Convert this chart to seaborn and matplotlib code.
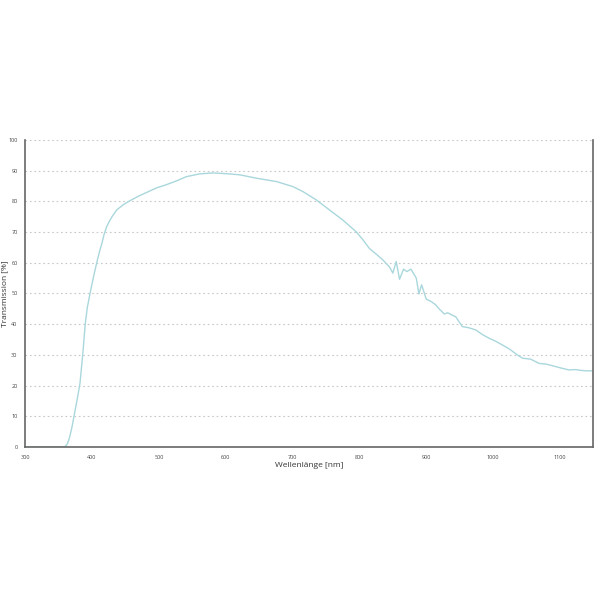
import numpy as np
import pandas as pd
import seaborn as sns
import matplotlib.pyplot as plt

# Transmission curve
wavelength = [300, 320, 340, 355, 360, 363, 366, 370, 373, 376, 379, 382, 386, 390, 393, 397,
              402, 407, 411, 415, 418, 422, 426, 430, 437, 447, 457, 470, 485, 497, 510, 525,
              541, 561, 580, 591, 605, 621, 646, 676, 700, 715, 735, 755, 775, 795, 805, 815,
              825, 835, 845, 850, 855, 860, 866, 871, 877, 885, 889, 893, 900, 907, 914, 920,
              927, 932, 938, 944, 954, 964, 974, 984, 994, 1004, 1014, 1025, 1036, 1044, 1056,
              1069, 1079, 1088, 1100, 1113, 1123, 1133, 1140, 1148]
transmission = [0.0, 0.0, 0.0, 0.0, 0.2, 1.0, 2.8, 6.5, 10.0, 13.5, 17.0, 20.8, 30.0, 40.4, 45.5, 50.0,
                55.2, 60.0, 63.5, 66.5, 69.2, 71.8, 73.5, 75.0, 77.2, 78.9, 80.2, 81.7, 83.2, 84.4, 85.3, 86.5,
                88.0, 88.9, 89.2, 89.1, 88.9, 88.6, 87.5, 86.4, 84.8, 83.2, 80.5, 77.2, 73.9, 70.1, 67.5, 64.6,
                62.8, 60.9, 58.6, 56.6, 60.4, 54.6, 57.9, 57.1, 57.9, 55.0, 49.8, 52.8, 48.1, 47.4, 46.3, 44.8,
                43.3, 43.7, 43.0, 42.4, 39.2, 38.8, 38.1, 36.6, 35.4, 34.4, 33.2, 31.8, 30.0, 28.9, 28.6,
                27.2, 27.0, 26.5, 25.8, 25.1, 25.2, 24.9, 24.8, 24.8]

x_ticks = list(range(300, 1101, 100))
y_ticks = list(range(0, 101, 10))

df = pd.DataFrame({'Wellenlänge': wavelength, 'Transmission': transmission})

sns.set_theme(style='white')
plt.rcParams['font.family'] = ['Open Sans', 'DejaVu Sans']

fig = plt.figure(figsize=(6, 6), dpi=100)
ax = fig.add_axes([0.042, 0.255, 0.947, 0.512])

sns.lineplot(data=df, x='Wellenlänge', y='Transmission', color='#a9d7dc', linewidth=1.0, ax=ax)

ax.set_xlim(300, 1150)
ax.set_ylim(0, 100)
ax.set_xticks(x_ticks)
ax.set_yticks(y_ticks)
ax.tick_params(axis='both', labelsize=4, length=5, width=0.8, direction='inout',
               color='#555555', labelcolor='#444444', pad=3)
ax.grid(axis='y', linestyle=(0, (1.5, 2.5)), color='#c8c8c8', linewidth=0.8)

for side in ['left', 'bottom', 'right']:
    ax.spines[side].set_visible(True)
    ax.spines[side].set_color('#666666')
    ax.spines[side].set_linewidth(1.2)
ax.spines['top'].set_visible(False)

ax.set_xlabel('Wellenlänge [nm]', fontsize=6, color='#333333', labelpad=2)
ax.set_ylabel('Transmission [%]', fontsize=6, color='#333333')
ax.yaxis.set_label_coords(-0.03, 0.5)

fig.savefig('out.png', dpi=100, facecolor='white')
plt.close(fig)
